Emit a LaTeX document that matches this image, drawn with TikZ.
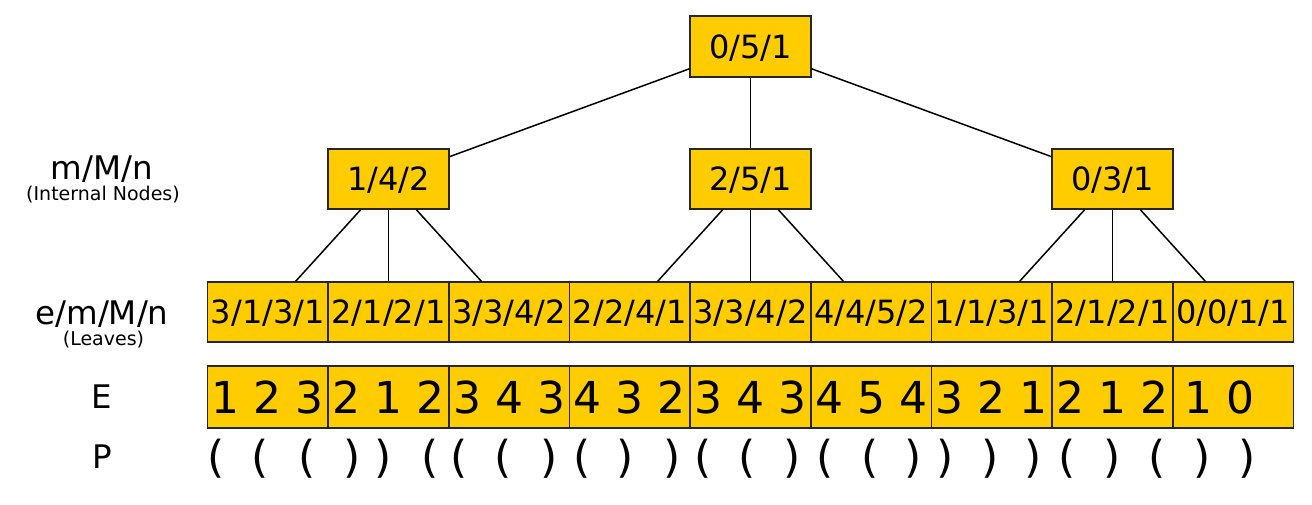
\documentclass[tikz,border=0pt]{standalone}
\usepackage{fontspec}
\setmainfont{DejaVu Sans}
\usepackage{tikz}
\definecolor{segYellow}{HTML}{FFCC00}
\newcommand{\segSize}[1]{\fontsize{#1}{#1}\selectfont}

\begin{document}
\begin{tikzpicture}[x=1pt,y=-1pt,
  segBox/.style={draw=black!85, fill=segYellow, line width=1.5pt, inner sep=0pt, minimum width=120.67pt, minimum height=60pt, text height=23.3pt, text depth=0pt, font=\segSize{32pt}},
  depthBox/.style={segBox, minimum height=62pt, text height=32pt, font=\segSize{44pt}},
  rowText/.style={anchor=base, inner sep=0pt, font=\segSize{32.5pt}},
  subText/.style={anchor=base, inner sep=0pt, font=\segSize{19pt}},
  parText/.style={anchor=base, inner sep=0pt, font=\segSize{44pt}},
  treeEdge/.style={line width=1.5pt}]
\useasboundingbox (0,0) rectangle (1312,504);
\node[rowText] (lblInt) at (102,179) {m/M/n};
\node[subText] (lblIntSub) at (103,200.5) {(Internal Nodes)};
\node[rowText] (lblLeaf) at (102,324) {e/m/M/n};
\node[subText] (lblLeafSub) at (103.5,345.5) {(Leaves)};
\node[rowText] (lblE) at (102,408) {E};
\node[rowText] (lblP) at (102,468) {P};
\node[segBox, minimum height=61pt] (root) at (750.5,46.5) {0/5/1};
\node[segBox] (intA) at (388.5,179) {1/4/2};
\node[segBox] (intB) at (750.5,179) {2/5/1};
\node[segBox] (intC) at (1112.5,179) {0/3/1};
\node[segBox] (leafA) at (267.83,312) {3/1/3/1};
\node[segBox] (leafB) at (388.5,312) {2/1/2/1};
\node[segBox] (leafC) at (509.17,312) {3/3/4/2};
\node[segBox] (leafD) at (629.83,312) {2/2/4/1};
\node[segBox] (leafE) at (750.5,312) {3/3/4/2};
\node[segBox] (leafF) at (871.17,312) {4/4/5/2};
\node[segBox] (leafG) at (991.83,312) {1/1/3/1};
\node[segBox] (leafH) at (1112.5,312) {2/1/2/1};
\node[segBox] (leafI) at (1233.17,312) {0/0/1/1};
\draw[treeEdge] (root) -- (intA);
\draw[treeEdge] (root) -- (intB);
\draw[treeEdge] (root) -- (intC);
\draw[treeEdge] (intA) -- (leafA);
\draw[treeEdge] (intA) -- (leafB);
\draw[treeEdge] (intA) -- (leafC);
\draw[treeEdge] (intB) -- (leafD);
\draw[treeEdge] (intB) -- (leafE);
\draw[treeEdge] (intB) -- (leafF);
\draw[treeEdge] (intC) -- (leafG);
\draw[treeEdge] (intC) -- (leafH);
\draw[treeEdge] (intC) -- (leafI);
\node[depthBox] (depA) at (267.83,397) {1 2 3};
\node[depthBox] (depB) at (388.5,397) {2 1 2};
\node[depthBox] (depC) at (509.17,397) {3 4 3};
\node[depthBox] (depD) at (629.83,397) {4 3 2};
\node[depthBox] (depE) at (750.5,397) {3 4 3};
\node[depthBox] (depF) at (871.17,397) {4 5 4};
\node[depthBox] (depG) at (991.83,397) {3 2 1};
\node[depthBox] (depH) at (1112.5,397) {2 1 2};
\node[depthBox] (depI) at (1233.17,397) {1 0\phantom{0}};
\node[parText] (par01) at (216,472) {(};
\node[parText] (par02) at (260,472) {(};
\node[parText] (par03) at (307,472) {(};
\node[parText] (par04) at (352,472) {)};
\node[parText] (par05) at (383,472) {)};
\node[parText] (par06) at (430,472) {(};
\node[parText] (par07) at (459,472) {(};
\node[parText] (par08) at (503,472) {(};
\node[parText] (par09) at (549,472) {)};
\node[parText] (par10) at (582,472) {(};
\node[parText] (par11) at (625,472) {)};
\node[parText] (par12) at (672,472) {)};
\node[parText] (par13) at (703,472) {(};
\node[parText] (par14) at (747,472) {(};
\node[parText] (par15) at (792,472) {)};
\node[parText] (par16) at (825,472) {(};
\node[parText] (par17) at (870,472) {(};
\node[parText] (par18) at (913,472) {)};
\node[parText] (par19) at (945,472) {)};
\node[parText] (par20) at (990,472) {)};
\node[parText] (par21) at (1033,472) {)};
\node[parText] (par22) at (1067,472) {(};
\node[parText] (par23) at (1112,472) {)};
\node[parText] (par24) at (1157,472) {(};
\node[parText] (par25) at (1202,472) {)};
\node[parText] (par26) at (1247,472) {)};
\end{tikzpicture}
\end{document}
